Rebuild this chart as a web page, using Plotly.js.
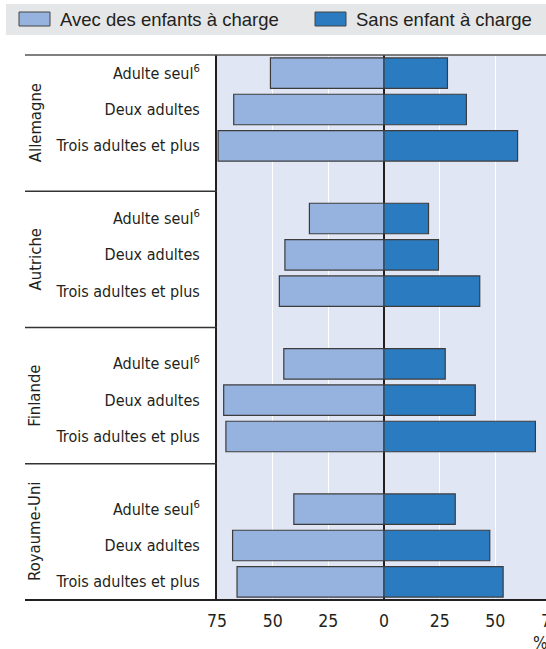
<!DOCTYPE html>
<html>
<head>
<meta charset="utf-8">
<script src="https://cdn.plot.ly/plotly-3.0.1.min.js"></script>
<style>
  html, body { margin: 0; padding: 0; overflow: hidden; background: #fff; }
  #chart { width: 566px; height: 649px; }
</style>
</head>
<body>
<div id="chart"></div>
<script>
// Household types, one block per country
const countries = ['Allemagne', 'Autriche', 'Finlande', 'Royaume-Uni'];
const households = ['Adulte seul<sup>6</sup>', 'Deux adultes', 'Trois adultes et plus'];
const seriesNames = ['Avec des enfants à charge', 'Sans enfant à charge'];

// Values in %, in country order, three household types each
const avecEnfants = [51, 67.5, 74.5,  33.5, 44.5, 47,  45, 72, 71,  40.5, 68, 66];
const sansEnfant  = [28.5, 37, 60,    20, 24.5, 43,    27.5, 41, 68, 32, 47.5, 53.5];

const xTickVals = [-75, -50, -25, 0, 25, 50, 75];
const xTickText = ['75', '50', '25', '0', '25', '50', '75'];

// Geometry of the drawing area (pixels)
const W = 566, H = 649;
const M = { l: 217, r: 15, t: 55, b: 49 };
const PW = W - M.l - M.r, PH = H - M.t - M.b;
const xp = px => (px - M.l) / PW;          // pixel -> paper x
const yp = py => (H - M.b - py) / PH;      // pixel -> paper y

// One slot per bar, an empty slot between countries
const perGroup = households.length + 1;
const nSlots = countries.length * perGroup - 1;
const yPos = [], yText = [];
countries.forEach((c, g) => {
  households.forEach((h, i) => {
    yPos.push(g * perGroup + i + 0.5);
    yText.push(h);
  });
});

const narrow = 'DejaVu Sans Condensed, Liberation Sans, sans-serif';
const regular = 'Liberation Sans, Arial, sans-serif';
const textCol = '#231f20';
const colors = ['#95b3de', '#2b7bc1'];

const traces = [
  {
    type: 'bar', orientation: 'h', name: seriesNames[0],
    y: yPos, x: avecEnfants.map(v => -v), width: 0.84,
    marker: { color: colors[0], line: { color: '#3c3c3c', width: 1.2 } },
    showlegend: false, hoverinfo: 'skip'
  },
  {
    type: 'bar', orientation: 'h', name: seriesNames[1],
    y: yPos, x: sansEnfant, width: 0.84,
    marker: { color: colors[1], line: { color: '#3c3c3c', width: 1.2 } },
    showlegend: false, hoverinfo: 'skip'
  }
];

const shapes = [];
const annotations = [];

// Legend band with swatches
shapes.push({ type: 'rect', xref: 'paper', yref: 'paper', layer: 'below',
  x0: xp(6), x1: xp(W + 10), y0: yp(35), y1: yp(4),
  fillcolor: '#e5e6e8', line: { width: 0 } });
const legendX = [[19, 50, 58], [315, 346, 354]];
seriesNames.forEach((name, k) => {
  const [a, b, t] = legendX[k];
  shapes.push({ type: 'rect', xref: 'paper', yref: 'paper',
    x0: xp(a), x1: xp(b), y0: yp(26), y1: yp(12),
    fillcolor: colors[k], line: { color: '#444', width: 1 } });
  annotations.push({ xref: 'paper', yref: 'paper', x: xp(t), y: yp(19.5),
    xanchor: 'left', yanchor: 'middle', text: name, showarrow: false,
    font: { family: regular, size: 18.5, color: textCol } });
});

// Frame lines across the label column
shapes.push({ type: 'line', xref: 'paper', yref: 'paper',
  x0: xp(25), x1: 1, y0: 1, y1: 1, line: { color: '#555', width: 1.5 } });
shapes.push({ type: 'line', xref: 'paper', yref: 'paper',
  x0: xp(25), x1: 1, y0: 0, y1: 0, line: { color: '#231f20', width: 2 } });
for (let g = 1; g < countries.length; g++) {
  const yy = g * nSlots / countries.length;
  shapes.push({ type: 'line', xref: 'paper', yref: 'y',
    x0: xp(25), x1: 0, y0: yy, y1: yy, line: { color: '#333', width: 1.5 } });
}

// Country names, rotated, centred in their block
countries.forEach((c, g) => {
  annotations.push({ xref: 'paper', yref: 'y', x: xp(35),
    y: (g + 0.5) * nSlots / countries.length,
    text: c, textangle: -90, showarrow: false,
    xanchor: 'center', yanchor: 'middle',
    font: { family: narrow, size: 16.5, color: textCol } });
});

// Unit
annotations.push({ xref: 'paper', yref: 'paper', x: xp(540), y: yp(643),
  text: '%', showarrow: false, xanchor: 'center', yanchor: 'middle',
  font: { family: narrow, size: 17, color: textCol } });

const layout = {
  width: W, height: H,
  margin: { l: M.l, r: M.r, t: M.t, b: M.b, pad: 0 },
  paper_bgcolor: '#ffffff',
  plot_bgcolor: '#e1e6f4',
  barmode: 'relative',
  bargap: 0,
  showlegend: false,
  xaxis: {
    range: [-75, 75], fixedrange: true,
    tickvals: xTickVals, ticktext: xTickText,
    showgrid: true, gridcolor: '#ffffff', gridwidth: 1.5,
    zeroline: true, zerolinecolor: '#231f20', zerolinewidth: 1.5,
    showline: false, ticks: '', ticklabelstandoff: 8,
    tickfont: { family: narrow, size: 17.5, color: textCol }
  },
  yaxis: {
    range: [nSlots, 0], fixedrange: true,
    tickvals: yPos, ticktext: yText,
    showgrid: false, zeroline: false,
    showline: true, linecolor: '#231f20', linewidth: 2,
    ticks: '', ticklabelstandoff: 12,
    tickfont: { family: narrow, size: 16, color: textCol }
  },
  shapes: shapes,
  annotations: annotations
};

Plotly.newPlot('chart', traces, layout, { staticPlot: true, displayModeBar: false });
</script>
</body>
</html>
